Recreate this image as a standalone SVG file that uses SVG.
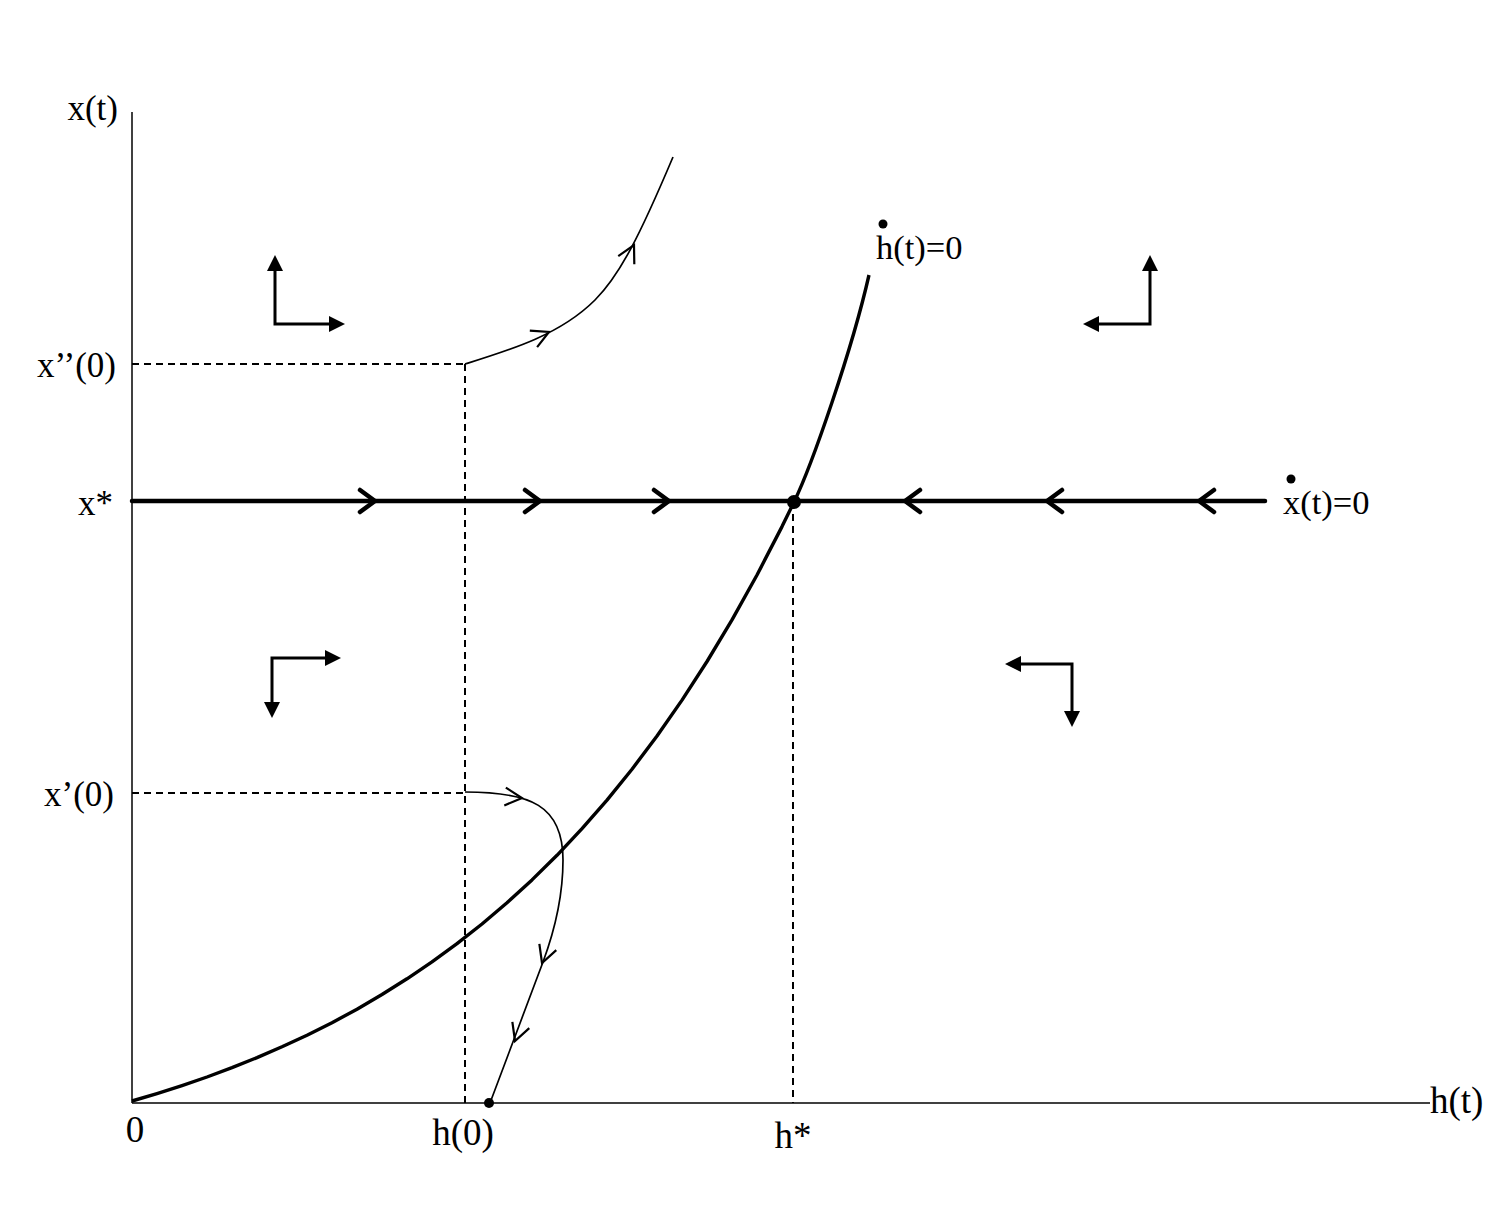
<svg xmlns="http://www.w3.org/2000/svg" xmlns:xlink="http://www.w3.org/1999/xlink" width="1493" height="1214" viewBox="0 0 1493 1214">
<style>
.axis{fill:none;stroke:#000;stroke-width:1.5}
.dash{fill:none;stroke:#000;stroke-width:2;stroke-dasharray:7 5}
.thick{fill:none;stroke:#000;stroke-width:3.4;stroke-linejoin:round}
.xline{fill:none;stroke:#000;stroke-width:4.5;stroke-linecap:round}
.traj{fill:none;stroke:#000;stroke-width:1.7}
.quad{fill:none;stroke:#000;stroke-width:3;marker-start:url(#tri);marker-end:url(#tri)}
text{font-family:"Liberation Serif","Times New Roman",serif;font-size:35px;fill:#000}
.b{font-size:37px}
.r{font-size:34.5px}
.l{text-anchor:end}
.m{text-anchor:middle}
</style>
<defs>
<marker id="tri" viewBox="0 0 16 16" refX="8" refY="8" markerWidth="16" markerHeight="16" markerUnits="userSpaceOnUse" orient="auto-start-reverse">
<path d="M0,0 L16,8 L0,16 z" fill="#000"/>
</marker>
<path id="chevS" d="M-17,-9 L0,0 L-17,9" fill="none" stroke="#000" stroke-width="2.2"/>
<path id="chevL" d="M-15,-11 L0,0 L-15,11" fill="none" stroke="#000" stroke-width="4.5" stroke-linecap="round" stroke-linejoin="round"/>
</defs>

<g id="axes">
<line class="axis" x1="132" y1="112" x2="132" y2="1103"/>
<line class="axis" x1="132" y1="1103" x2="1430" y2="1103"/>
</g>

<g id="guides">
<line class="dash" x1="132" y1="364" x2="465" y2="364"/>
<line class="dash" x1="465" y1="364" x2="465" y2="1103"/>
<line class="dash" x1="132" y1="793" x2="465" y2="793"/>
<line class="dash" x1="793" y1="502" x2="793" y2="1103"/>
</g>

<g id="connectors">
<path id="h-nullcline" class="thick" d="M132,1101 L157,1093.6 L182,1085.6 L207,1077 L232,1067.7 L257,1057.6 L282,1046.8 L307,1035.2 L332,1022.7 L357,1009.2 L382,994.5 L407,978.8 L432,961.9 L457,943.7 L482,924 L507,902.8 L532,879.9 L557,855.3 L582,828.7 L607,800.1 L632,769.2 L657,736 L682,700.1 L707,661.5 L732,619.9 L757,575 L782,526.6 L794,502 C812,465 852,350 869,275"/>
<line id="x-nullcline" class="xline" x1="132" y1="501" x2="1265" y2="501"/>
<use xlink:href="#chevL" transform="translate(375,501)"/>
<use xlink:href="#chevL" transform="translate(540,501)"/>
<use xlink:href="#chevL" transform="translate(669,501)"/>
<use xlink:href="#chevL" transform="translate(905,501) rotate(180)"/>
<use xlink:href="#chevL" transform="translate(1047,501) rotate(180)"/>
<use xlink:href="#chevL" transform="translate(1199,501) rotate(180)"/>

<path id="traj-upper" class="traj" d="M465,364 C510,350 560,335 595,300 C620,275 640,235 673,157"/>
<use xlink:href="#chevS" transform="translate(549,332) rotate(-24)"/>
<use xlink:href="#chevS" transform="translate(634,245) rotate(-63)"/>

<path id="traj-lower" class="traj" d="M465,792 C530,792 563,805 563,860 C563,900 553,935 543,962 L490,1103"/>
<use xlink:href="#chevS" transform="translate(522,798) rotate(5)"/>
<use xlink:href="#chevS" transform="translate(542,963) rotate(110)"/>
<use xlink:href="#chevS" transform="translate(515,1041) rotate(110)"/>
</g>

<g id="equilibrium"><circle cx="794" cy="502" r="7" fill="#000"/></g>
<g id="start-point"><circle cx="489" cy="1103" r="5" fill="#000"/></g>

<g id="quad-tl"><path class="quad" d="M275,263 L275,324 L337,324"/></g>
<g id="quad-tr"><path class="quad" d="M1150,263 L1150,324 L1091,324"/></g>
<g id="quad-bl"><path class="quad" d="M333,658 L272,658 L272,710"/></g>
<g id="quad-br"><path class="quad" d="M1013,664 L1072,664 L1072,719"/></g>

<g id="labels">
<text class="l" x="118" y="120">x(t)</text>
<text class="l" x="116" y="377">x’’(0)</text>
<text class="l" x="113" y="515">x*</text>
<text class="l" x="114" y="806">x’(0)</text>
<text class="m b" x="135" y="1142">0</text>
<text class="m b" x="463" y="1145">h(0)</text>
<text class="m b" x="793" y="1148">h*</text>
<text class="b" x="1430" y="1113">h(t)</text>
<g id="hdot-label"><circle cx="883" cy="224" r="4.5" fill="#000"/><text class="r" x="876" y="259">h(t)=0</text></g>
<g id="xdot-label"><circle cx="1291" cy="479" r="4.5" fill="#000"/><text class="r" x="1283" y="514">x(t)=0</text></g>
</g>
</svg>
